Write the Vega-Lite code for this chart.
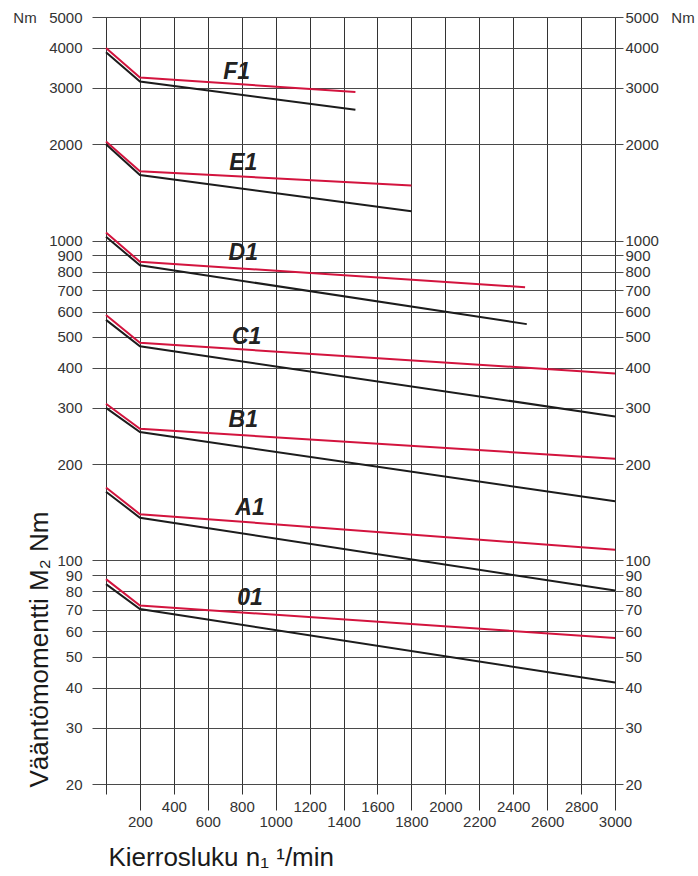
{
  "$schema": "https://vega.github.io/schema/vega-lite/v6.json",
  "autosize": {"type": "none"},
  "padding": {"left": 92, "top": 17, "right": 75, "bottom": 92},
  "width": 531,
  "height": 767,
  "background": "white",
  "config": {"view": {"stroke": null}},
  "datasets": {
    "curves": [
      {"series": "F1", "kind": "upper", "n": 0, "M": 4000},
      {"series": "F1", "kind": "upper", "n": 200, "M": 3234},
      {"series": "F1", "kind": "upper", "n": 1470, "M": 2915},
      {"series": "F1", "kind": "lower", "n": 0, "M": 3882},
      {"series": "F1", "kind": "lower", "n": 200, "M": 3144},
      {"series": "F1", "kind": "lower", "n": 1470, "M": 2563},
      {"series": "E1", "kind": "upper", "n": 0, "M": 2040},
      {"series": "E1", "kind": "upper", "n": 200, "M": 1647},
      {"series": "E1", "kind": "upper", "n": 1800, "M": 1487},
      {"series": "E1", "kind": "lower", "n": 0, "M": 2000},
      {"series": "E1", "kind": "lower", "n": 200, "M": 1602},
      {"series": "E1", "kind": "lower", "n": 1800, "M": 1236},
      {"series": "D1", "kind": "upper", "n": 0, "M": 1060},
      {"series": "D1", "kind": "upper", "n": 200, "M": 858},
      {"series": "D1", "kind": "upper", "n": 2470, "M": 715},
      {"series": "D1", "kind": "lower", "n": 0, "M": 1028},
      {"series": "D1", "kind": "lower", "n": 200, "M": 837},
      {"series": "D1", "kind": "lower", "n": 2480, "M": 548},
      {"series": "C1", "kind": "upper", "n": 0, "M": 585},
      {"series": "C1", "kind": "upper", "n": 200, "M": 479},
      {"series": "C1", "kind": "upper", "n": 3000, "M": 384},
      {"series": "C1", "kind": "lower", "n": 0, "M": 565},
      {"series": "C1", "kind": "lower", "n": 200, "M": 467},
      {"series": "C1", "kind": "lower", "n": 3000, "M": 282},
      {"series": "B1", "kind": "upper", "n": 0, "M": 309},
      {"series": "B1", "kind": "upper", "n": 200, "M": 258},
      {"series": "B1", "kind": "upper", "n": 3000, "M": 208},
      {"series": "B1", "kind": "lower", "n": 0, "M": 300},
      {"series": "B1", "kind": "lower", "n": 200, "M": 252},
      {"series": "B1", "kind": "lower", "n": 3000, "M": 153},
      {"series": "A1", "kind": "upper", "n": 0, "M": 169},
      {"series": "A1", "kind": "upper", "n": 200, "M": 139.5},
      {"series": "A1", "kind": "upper", "n": 3000, "M": 108},
      {"series": "A1", "kind": "lower", "n": 0, "M": 164},
      {"series": "A1", "kind": "lower", "n": 200, "M": 136},
      {"series": "A1", "kind": "lower", "n": 3000, "M": 80.5},
      {"series": "01", "kind": "upper", "n": 0, "M": 87.4},
      {"series": "01", "kind": "upper", "n": 200, "M": 72.3},
      {"series": "01", "kind": "upper", "n": 3000, "M": 57.2},
      {"series": "01", "kind": "lower", "n": 0, "M": 84.3},
      {"series": "01", "kind": "lower", "n": 200, "M": 70.5},
      {"series": "01", "kind": "lower", "n": 3000, "M": 41.5}
    ],
    "labels": [
      {"label": "F1", "n": 770, "M": 3372},
      {"label": "E1", "n": 809, "M": 1747},
      {"label": "D1", "n": 809, "M": 914},
      {"label": "C1", "n": 829, "M": 498},
      {"label": "B1", "n": 809, "M": 275},
      {"label": "A1", "n": 849, "M": 146},
      {"label": "01", "n": 849, "M": 76.5}
    ]
  },
  "resolve": {"axis": {"y": "independent"}},
  "encoding": {
    "x": {
      "field": "n",
      "type": "quantitative",
      "scale": {"domain": [-82.5, 3047], "nice": false, "zero": false},
      "axis": {
        "orient": "bottom",
        "values": [0, 200, 400, 600, 800, 1000, 1200, 1400, 1600, 1800, 2000, 2200, 2400, 2600, 2800, 3000],
        "format": "d",
        "labelExpr": "datum.value == 0 ? '' : datum.label",
        "grid": true,
        "gridColor": "#333333",
        "gridWidth": 1,
        "domain": false,
        "ticks": true,
        "tickColor": "#333333",
        "tickWidth": 1,
        "tickSize": {"condition": {"test": "datum.value % 400 == 200", "value": 26}, "value": 10},
        "labelPadding": {"condition": {"test": "datum.value % 400 == 200", "value": 4}, "value": 5},
        "labelFont": "Liberation Sans",
        "labelFontSize": 15,
        "labelColor": "#333333",
        "labelOverlap": false,
        "labelBound": false,
        "labelFlush": false,
        "title": "Kierrosluku n\u2081  \u00b9/min",
        "titleFont": "Liberation Sans",
        "titleFontSize": 26,
        "titleFontWeight": "normal",
        "titleColor": "#1a1a1a",
        "titleAnchor": "start",
        "titleAlign": "left",
        "titleBaseline": "alphabetic",
        "titleX": 16,
        "titleY": 81
      }
    }
  },
  "layer": [
    {
      "data": {"name": "curves"},
      "mark": {"type": "line", "strokeWidth": 2},
      "encoding": {
        "y": {
          "field": "M",
          "type": "quantitative",
          "scale": {"type": "log", "domain": [20, 5000], "nice": false, "zero": false},
          "axis": {
            "orient": "left",
            "values": [20, 30, 40, 50, 60, 70, 80, 90, 100, 200, 300, 400, 500, 600, 700, 800, 900, 1000, 2000, 3000, 4000, 5000],
            "format": "d",
            "labelExpr": "datum.value == 5000 ? 'Nm\u00a0\u00a0\u00a05000' : datum.label",
            "grid": true,
            "gridColor": "#4a4a4a",
            "gridWidth": 1,
            "domain": false,
            "ticks": false,
            "tickSize": 0,
            "labelPadding": 10,
            "labelFont": "Liberation Sans",
            "labelFontSize": 15,
            "labelColor": "#333333",
            "labelOverlap": false,
            "labelBound": false,
            "labelFlush": false,
            "title": "V\u00e4\u00e4nt\u00f6momentti M\u2082 Nm",
            "titleFont": "Liberation Sans",
            "titleFontSize": 26,
            "titleFontWeight": "normal",
            "titleColor": "#1a1a1a",
            "titleAngle": -90,
            "titleAlign": "left",
            "titleAnchor": "start",
            "titleBaseline": "alphabetic",
            "titleX": -45,
            "titleY": 770
          }
        },
        "color": {
          "field": "kind",
          "type": "nominal",
          "scale": {"domain": ["upper", "lower"], "range": ["#d3143e", "#1c1c1c"]},
          "legend": null
        },
        "detail": {"field": "series"}
      }
    },
    {
      "data": {"name": "labels"},
      "mark": {"type": "text", "font": "Liberation Sans", "fontSize": 23, "fontWeight": "bold", "fontStyle": "italic", "color": "#222222"},
      "encoding": {
        "y": {
          "field": "M",
          "type": "quantitative",
          "axis": {
            "orient": "right",
            "values": [20, 30, 40, 50, 60, 70, 80, 90, 100, 200, 300, 400, 500, 600, 700, 800, 900, 1000, 2000, 3000, 4000, 5000],
            "format": "d",
            "labelExpr": "datum.value == 5000 ? '5000\u00a0\u00a0\u00a0Nm' : datum.label",
            "grid": false,
            "domain": false,
            "ticks": false,
            "tickSize": 0,
            "labelPadding": 2,
            "labelFont": "Liberation Sans",
            "labelFontSize": 15,
            "labelColor": "#333333",
            "labelOverlap": false,
            "labelBound": false,
            "labelFlush": false,
            "title": null
          }
        },
        "text": {"field": "label"}
      }
    }
  ]
}
